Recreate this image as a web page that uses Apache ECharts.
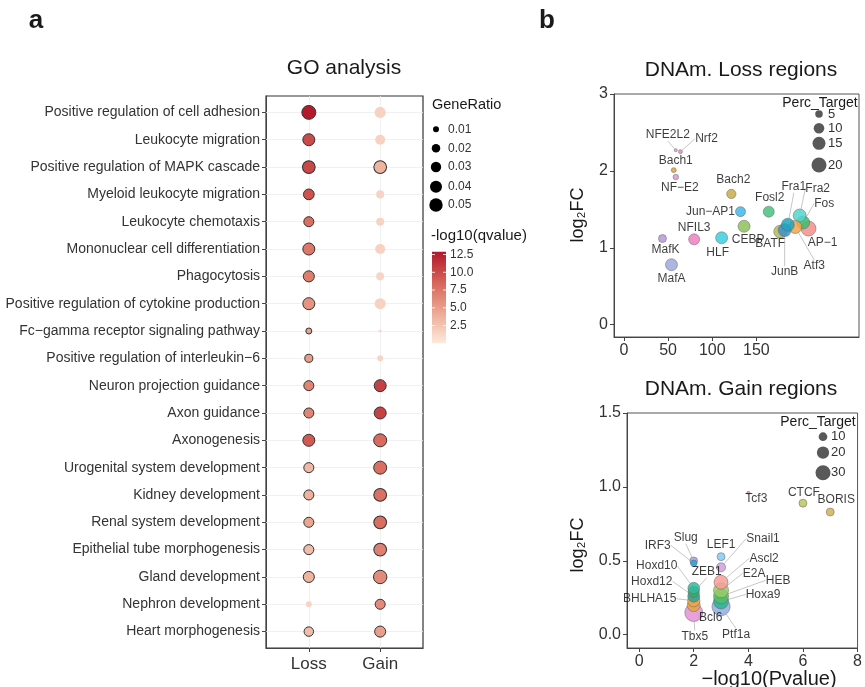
<!DOCTYPE html>
<html>
<head>
<meta charset="utf-8">
<script src="https://cdn.jsdelivr.net/npm/echarts@6/dist/echarts.min.js"></script>
<style>
html, body { margin: 0; padding: 0; background: #fff; }
#main { width: 865px; height: 687px; }
</style>
</head>
<body>
<div id="main"></div>
<script>
// ---- a: GO analysis ----
var goTerms = [
    'Positive regulation of cell adhesion', 'Leukocyte migration', 'Positive regulation of MAPK cascade',
    'Myeloid leukocyte migration', 'Leukocyte chemotaxis', 'Mononuclear cell differentiation',
    'Phagocytosis', 'Positive regulation of cytokine production', 'Fc\u2212gamma receptor signaling pathway',
    'Positive regulation of interleukin\u22126', 'Neuron projection guidance', 'Axon guidance',
    'Axonogenesis', 'Urogenital system development', 'Kidney development', 'Renal system development',
    'Epithelial tube morphogenesis', 'Gland development', 'Nephron development', 'Heart morphogenesis'
];
var goGroups = ['Loss', 'Gain'];
var lossRatio = [0.054, 0.040, 0.045, 0.032, 0.028, 0.040, 0.034, 0.040, 0.010, 0.018,
                 0.028, 0.028, 0.040, 0.028, 0.028, 0.028, 0.028, 0.034, 0.010, 0.025];
var lossQ = [12.8, 10.0, 10.2, 9.6, 8.0, 7.4, 7.0, 5.6, 4.8, 5.0,
             6.6, 6.6, 9.2, 3.3, 3.8, 4.5, 3.0, 3.6, 1.4, 3.0];
var gainRatio = [0.034, 0.028, 0.045, 0.018, 0.018, 0.028, 0.018, 0.034, 0.0025, 0.010,
                 0.040, 0.040, 0.047, 0.047, 0.045, 0.045, 0.045, 0.050, 0.028, 0.034];
var gainQ = [1.6, 1.6, 3.6, 1.5, 1.5, 1.6, 1.4, 1.6, 1.2, 1.4,
             10.6, 10.6, 8.2, 8.0, 7.8, 8.0, 6.8, 6.2, 6.2, 5.0];
var ratioLegend = [0.01, 0.02, 0.03, 0.04, 0.05];
var qTicks = [2.5, 5.0, 7.5, 10.0, 12.5];
var qMax = 12.9;

// ---- b: DNAm. Loss regions ----
var lossTF = ['NFE2L2', 'Nrf2', 'Bach1', 'NF\u2212E2', 'Bach2', 'Jun\u2212AP1', 'Fosl2', 'CEBP', 'NFIL3',
              'HLF', 'MafK', 'MafA', 'AP\u22121', 'Fos', 'Fra2', 'Atf3', 'BATF', 'JunB', 'Fra1'];
var lossP = [58.7, 64, 56.4, 58.7, 121.6, 132, 164, 136, 79.5, 110.6, 43.6, 53.8, 209, 203, 199, 194, 177, 182, 185.6];
var lossFC = [2.27, 2.25, 2.01, 1.92, 1.70, 1.47, 1.47, 1.28, 1.11, 1.13, 1.12, 0.78, 1.25, 1.33, 1.42, 1.27, 1.21, 1.23, 1.30];
var lossPerc = [0.8, 1.4, 2.2, 2.7, 7.7, 8.9, 10.8, 12.8, 10.8, 12.8, 5.7, 12.8, 20, 15, 15, 15, 15, 15, 15];
var lossTicksX = [0, 50, 100, 150];
var lossTicksY = [0, 1, 2, 3];
var lossPercLegend = [5, 10, 15, 20];

// ---- b: DNAm. Gain regions ----
var gainTF = ['Tcf3', 'CTCF', 'BORIS', 'Slug', 'IRF3', 'LEF1', 'Snail1', 'Ptf1a', 'Hoxa9', 'HEB', 'E2A', 'Ascl2',
              'Tbx5', 'Bcl6', 'BHLHA15', 'Hoxd12', 'ZEB1', 'Hoxd10'];
var gainP = [4.0, 6.0, 7.0, 2.0, 2.0, 3.0, 3.0, 3.0, 3.0, 3.0, 3.0, 3.0, 2.0, 2.0, 2.0, 2.0, 2.0, 2.0];
var gainFC = [0.96, 0.89, 0.83, 0.50, 0.483, 0.528, 0.456, 0.19, 0.225, 0.26, 0.30, 0.355,
              0.15, 0.20, 0.23, 0.26, 0.29, 0.315];
var gainPerc = [1.2, 8.5, 8.5, 8, 5.5, 8.5, 11, 44, 30, 30, 30, 26, 43, 22, 20, 19, 17, 18];
var gainTicksX = [0, 2, 4, 6, 8];
var gainTicksY = [0, 0.5, 1.0, 1.5];
var gainPercLegend = [10, 20, 30];

// styles
var FONT = '"Liberation Sans", Arial, sans-serif';
var qColors = ['#fdeadd', '#eca994', '#d66459', '#b2182b'];
var lossColors = ['#e9a0cf', '#e78cc0', '#d8a53a', '#d79bd4', '#c9ad48', '#3fb7ec', '#45c27c', '#8fbf5a', '#f07fc2',
                  '#3ccfe0', '#b49ad6', '#9ea9db', '#f58e89', '#3fbb6c', '#52d5cb', '#f4a347', '#b3bb55', '#3d8ed6', '#1fa3bd'];
var gainColors = ['#e48bbf', '#bcc55c', '#d5b24f', '#a59fdc', '#1ba6e2', '#86c9f1', '#d39ddf', '#93abe3', '#27b493',
                  '#52be68', '#95cc63', '#f79d95', '#e392d7', '#e6a63a', '#f2a34a', '#2aa39a', '#3aac62', '#31b89d'];
// label offsets from point centre (px), ggrepel-like
var lossLabelShift = [[-8, -15], [26, -13], [2, -9], [4, 11], [2, -14], [-30, 0], [1, -14], [4, 13], [0, -12],
                      [-4, 15], [3, 11], [0, 14], [14, 14], [21, -19], [18, -27], [19, 39], [-10, 12], [0, 42], [6, -38]];
var gainLabelShift = [[8, 6], [1, -10], [6, -12], [-8, -23], [-36, -18], [0, -12], [42, -29], [15, 28], [42, -7],
                      [57, -16], [33, -17], [43, -24], [1, 24], [17, 13], [-44, -2], [-42, -15], [13, -20], [-37, -22]];
var lossLined = ['NFE2L2', 'Nrf2', 'Fra1', 'Fra2', 'Fos', 'Atf3', 'JunB'];
var gainLined = ['Slug', 'IRF3', 'Snail1', 'Ptf1a', 'Hoxa9', 'HEB', 'E2A', 'Ascl2', 'Tbx5', 'Bcl6',
                 'BHLHA15', 'Hoxd12', 'ZEB1', 'Hoxd10'];

function ratioSize(r) { return 60 * Math.sqrt(r); }
function lossSize(p) { return 3.35 * Math.sqrt(p); }
function gainSize(p) { return 2.74 * Math.sqrt(p); }

function goData(group, ratio, q) {
    return goTerms.map(function (t, i) {
        var sig = q[i] > 2;
        return {
            name: t,
            value: [group, i + 1, ratio[i], q[i]],
            itemStyle: { opacity: 1, borderColor: sig ? '#333' : 'transparent', borderWidth: sig ? 1 : 0 }
        };
    });
}

function tfData(names, px, fc, perc, colors, lined) {
    return names.map(function (n, i) {
        return {
            name: n,
            value: [px[i], fc[i], perc[i]],
            itemStyle: { color: colors[i] },
            labelLine: { show: lined.indexOf(n) >= 0 }
        };
    });
}

function shiftLabels(shift) {
    return function (p) {
        var o = shift[p.dataIndex];
        return {
            x: p.rect.x + p.rect.width / 2 + o[0],
            y: p.rect.y + p.rect.height / 2 + o[1],
            align: 'center', verticalAlign: 'middle'
        };
    };
}

var tickAxis = function (extra) {
    var base = {
        type: 'value',
        axisLine: { show: true, onZero: false, lineStyle: { color: '#444', width: 1 } },
        axisTick: { show: true, length: 4, lineStyle: { color: '#444' } },
        splitLine: { show: false },
        axisLabel: { color: '#333', fontSize: 16, fontFamily: FONT, margin: 6 }
    };
    for (var k in extra) {
        if (typeof extra[k] === 'object' && base[k] && !Array.isArray(extra[k])) {
            base[k] = Object.assign({}, base[k], extra[k]);
        } else {
            base[k] = extra[k];
        }
    }
    return base;
};

// legend graphics
var graphics = [];
function txt(x, y, s, size, opts) {
    opts = opts || {};
    graphics.push({
        type: 'text', x: x, y: y, rotation: opts.rotation || 0, silent: true,
        style: {
            text: s, fontSize: size, fontFamily: FONT, fill: opts.fill || '#1a1a1a',
            fontWeight: opts.bold ? 'bold' : 'normal',
            align: opts.align || 'center', textAlign: opts.align || 'center',
            verticalAlign: 'middle', textVerticalAlign: 'middle'
        }
    });
}
function dot(x, y, d, fill) {
    graphics.push({ type: 'circle', silent: true, shape: { cx: x, cy: y, r: d / 2 }, style: { fill: fill } });
}

txt(36, 21, 'a', 26, { bold: true });
txt(547, 21, 'b', 26, { bold: true });
txt(344, 68, 'GO analysis', 21);
txt(741, 70, 'DNAm. Loss regions', 21);
txt(741, 389, 'DNAm. Gain regions', 21);
txt(578, 215, 'log\u2082FC', 18, { rotation: Math.PI / 2 });
txt(578, 545, 'log\u2082FC', 18, { rotation: Math.PI / 2 });
txt(769, 679, '\u2212log10(Pvalue)', 20);

// GeneRatio legend
txt(432, 105, 'GeneRatio', 14.5, { align: 'left' });
var ratioY = [129.3, 148.3, 167, 186.7, 205];
ratioLegend.forEach(function (r, i) {
    dot(436, ratioY[i], ratioSize(r), '#000');
    txt(448, ratioY[i], r.toFixed(2), 12, { align: 'left', fill: '#333' });
});

// -log10(qvalue) colour bar
txt(431, 236, '-log10(qvalue)', 15, { align: 'left' });
var barTop = 251.7, barBottom = 343.3, barX = 432, barW = 14;
graphics.push({
    type: 'rect', silent: true,
    shape: { x: barX, y: barTop, width: barW, height: barBottom - barTop },
    style: {
        fill: new echarts.graphic.LinearGradient(0, 0, 0, 1, [
            { offset: 0, color: qColors[3] }, { offset: 1 / 3, color: qColors[2] },
            { offset: 2 / 3, color: qColors[1] }, { offset: 1, color: qColors[0] }
        ])
    }
});
qTicks.forEach(function (v) {
    var y = barBottom - v / qMax * (barBottom - barTop);
    graphics.push({ type: 'line', silent: true, shape: { x1: barX, y1: y, x2: barX + 3, y2: y }, style: { stroke: '#fff', lineWidth: 0.8 } });
    graphics.push({ type: 'line', silent: true, shape: { x1: barX + barW - 3, y1: y, x2: barX + barW, y2: y }, style: { stroke: '#fff', lineWidth: 0.8 } });
    txt(450, y, v.toFixed(1), 12, { align: 'left', fill: '#333' });
});

// Perc_Target legends
txt(820, 103, 'Perc_Target', 14, {});
var lossLegY = [114, 128.3, 143.3, 165];
lossPercLegend.forEach(function (p, i) {
    dot(819, lossLegY[i], lossSize(p), '#595959');
    txt(828, lossLegY[i], String(p), 13, { align: 'left', fill: '#333' });
});
txt(818, 422, 'Perc_Target', 14, {});
var gainLegY = [436.7, 452.7, 472.7];
gainPercLegend.forEach(function (p, i) {
    dot(823, gainLegY[i], gainSize(p), '#595959');
    txt(831, gainLegY[i], String(p), 13, { align: 'left', fill: '#333' });
});

var gridLines = goTerms.map(function (t, i) { return { yAxis: i + 1 }; })
    .concat([{ xAxis: 1 }, { xAxis: 2 }]);

var chart = echarts.init(document.getElementById('main'), null, { renderer: 'canvas' });

var option = {
    animation: false,
    backgroundColor: '#fff',
    textStyle: { fontFamily: FONT },
    grid: [
        { left: 266, top: 96, width: 157, height: 552, show: true, borderColor: '#333', borderWidth: 1.2, backgroundColor: 'transparent' },
        { left: 614, top: 94, width: 245, height: 243, show: true, borderColor: '#555', borderWidth: 1, backgroundColor: 'transparent' },
        { left: 627, top: 413, width: 233, height: 235, show: true, borderColor: '#555', borderWidth: 1, backgroundColor: 'transparent' }
    ],
    xAxis: [
        tickAxis({
            gridIndex: 0, min: 0.4, max: 2.6,
            axisLabel: { customValues: [1, 2], fontSize: 17, margin: 8,
                formatter: function (v) { return goGroups[Math.round(v) - 1]; } },
            axisTick: { customValues: [1, 2] }
        }),
        tickAxis({
            gridIndex: 1, min: -11.3, max: 266.2,
            axisLabel: { customValues: lossTicksX },
            axisTick: { customValues: lossTicksX }
        }),
        tickAxis({
            gridIndex: 2, min: -0.445, max: 8,
            axisLabel: { customValues: gainTicksX },
            axisTick: { customValues: gainTicksX }
        })
    ],
    yAxis: [
        tickAxis({
            gridIndex: 0, min: 0.4, max: 20.6, inverse: true,
            axisLabel: { customValues: goTerms.map(function (t, i) { return i + 1; }), fontSize: 14, margin: 6,
                formatter: function (v) { return goTerms[Math.round(v) - 1]; } },
            axisTick: { customValues: goTerms.map(function (t, i) { return i + 1; }) }
        }),
        tickAxis({
            gridIndex: 1, min: -0.16, max: 3,
            axisLabel: { customValues: lossTicksY },
            axisTick: { customValues: lossTicksY }
        }),
        tickAxis({
            gridIndex: 2, min: -0.09, max: 1.5,
            axisLabel: { customValues: gainTicksY, formatter: function (v) { return v.toFixed(1); } },
            axisTick: { customValues: gainTicksY }
        })
    ],
    visualMap: {
        type: 'continuous', show: false, seriesIndex: [0, 1], dimension: 3,
        min: 0, max: qMax, inRange: { color: qColors }
    },
    series: [
        {
            type: 'scatter', xAxisIndex: 0, yAxisIndex: 0, z: 3,
            data: goData(1, lossRatio, lossQ),
            symbolSize: function (v) { return ratioSize(v[2]); },
            itemStyle: { opacity: 1 },
            markLine: {
                silent: true, z: 1, symbol: ['none', 'none'], label: { show: false },
                lineStyle: { color: '#ececec', width: 0.8, type: 'solid' },
                emphasis: { disabled: true },
                data: gridLines
            }
        },
        {
            type: 'scatter', xAxisIndex: 0, yAxisIndex: 0, z: 3,
            data: goData(2, gainRatio, gainQ),
            symbolSize: function (v) { return ratioSize(v[2]); },
            itemStyle: { opacity: 1 }
        },
        {
            type: 'scatter', xAxisIndex: 1, yAxisIndex: 1, z: 3,
            data: tfData(lossTF, lossP, lossFC, lossPerc, lossColors, lossLined),
            symbolSize: function (v) { return lossSize(v[2]); },
            itemStyle: { opacity: 0.85, borderColor: '#666', borderWidth: 0.6 },
            label: { show: true, position: 'inside', formatter: '{b}', color: '#1a1a1a', fontSize: 12, fontFamily: FONT },
            labelLine: { show: false, lineStyle: { color: '#a0a0a0', width: 0.6 } },
            labelLayout: shiftLabels(lossLabelShift)
        },
        {
            type: 'scatter', xAxisIndex: 2, yAxisIndex: 2, z: 3,
            data: tfData(gainTF, gainP, gainFC, gainPerc, gainColors, gainLined),
            symbolSize: function (v) { return gainSize(v[2]); },
            itemStyle: { opacity: 0.85, borderColor: '#666', borderWidth: 0.6 },
            label: { show: true, position: 'inside', formatter: '{b}', color: '#1a1a1a', fontSize: 12, fontFamily: FONT },
            labelLine: { show: false, lineStyle: { color: '#a0a0a0', width: 0.6 } },
            labelLayout: shiftLabels(gainLabelShift)
        }
    ],
    graphic: graphics
};

chart.setOption(option);
</script>
</body>
</html>
